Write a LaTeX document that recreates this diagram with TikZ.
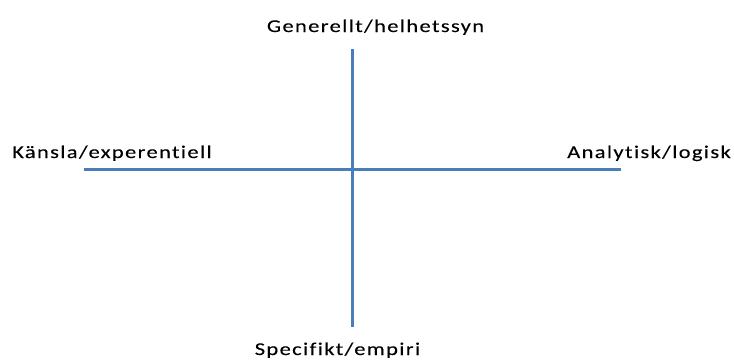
\documentclass[tikz,border=0pt]{standalone}
\usepackage{fontspec}
\setmainfont{Carlito}[FakeStretch=1.25,LetterSpace=7.5,Ligatures=NoCommon,FakeBold=0.15]
\definecolor{axisblue}{HTML}{4A7EBB}
\begin{document}
\begin{tikzpicture}[x=1pt,y=-1pt,
  axis/.style={draw=axisblue,line width=3pt},
  pole/.style={inner sep=0pt,font=\fontsize{18}{22}\selectfont,text=black,anchor=base}]
\useasboundingbox (0,0) rectangle (734,359);
% axis end points
\coordinate (top) at (352,49);
\coordinate (bottom) at (352,327);
\coordinate (left) at (84,169);
\coordinate (right) at (621,169);
\draw[axis] (left) -- (right);
\draw[axis] (top) -- (bottom);
% pole labels
\node[pole] (gen) at (375.5,32) {Generellt/helhetssyn};
\node[pole] (spec) at (337.5,355) {Specifikt/empiri};
\node[pole,anchor=base west] (kans) at (12,158) {Känsla/experentiell};
\node[pole,anchor=base east] (anal) at (731,158) {Analytisk/logisk};
\end{tikzpicture}
\end{document}
